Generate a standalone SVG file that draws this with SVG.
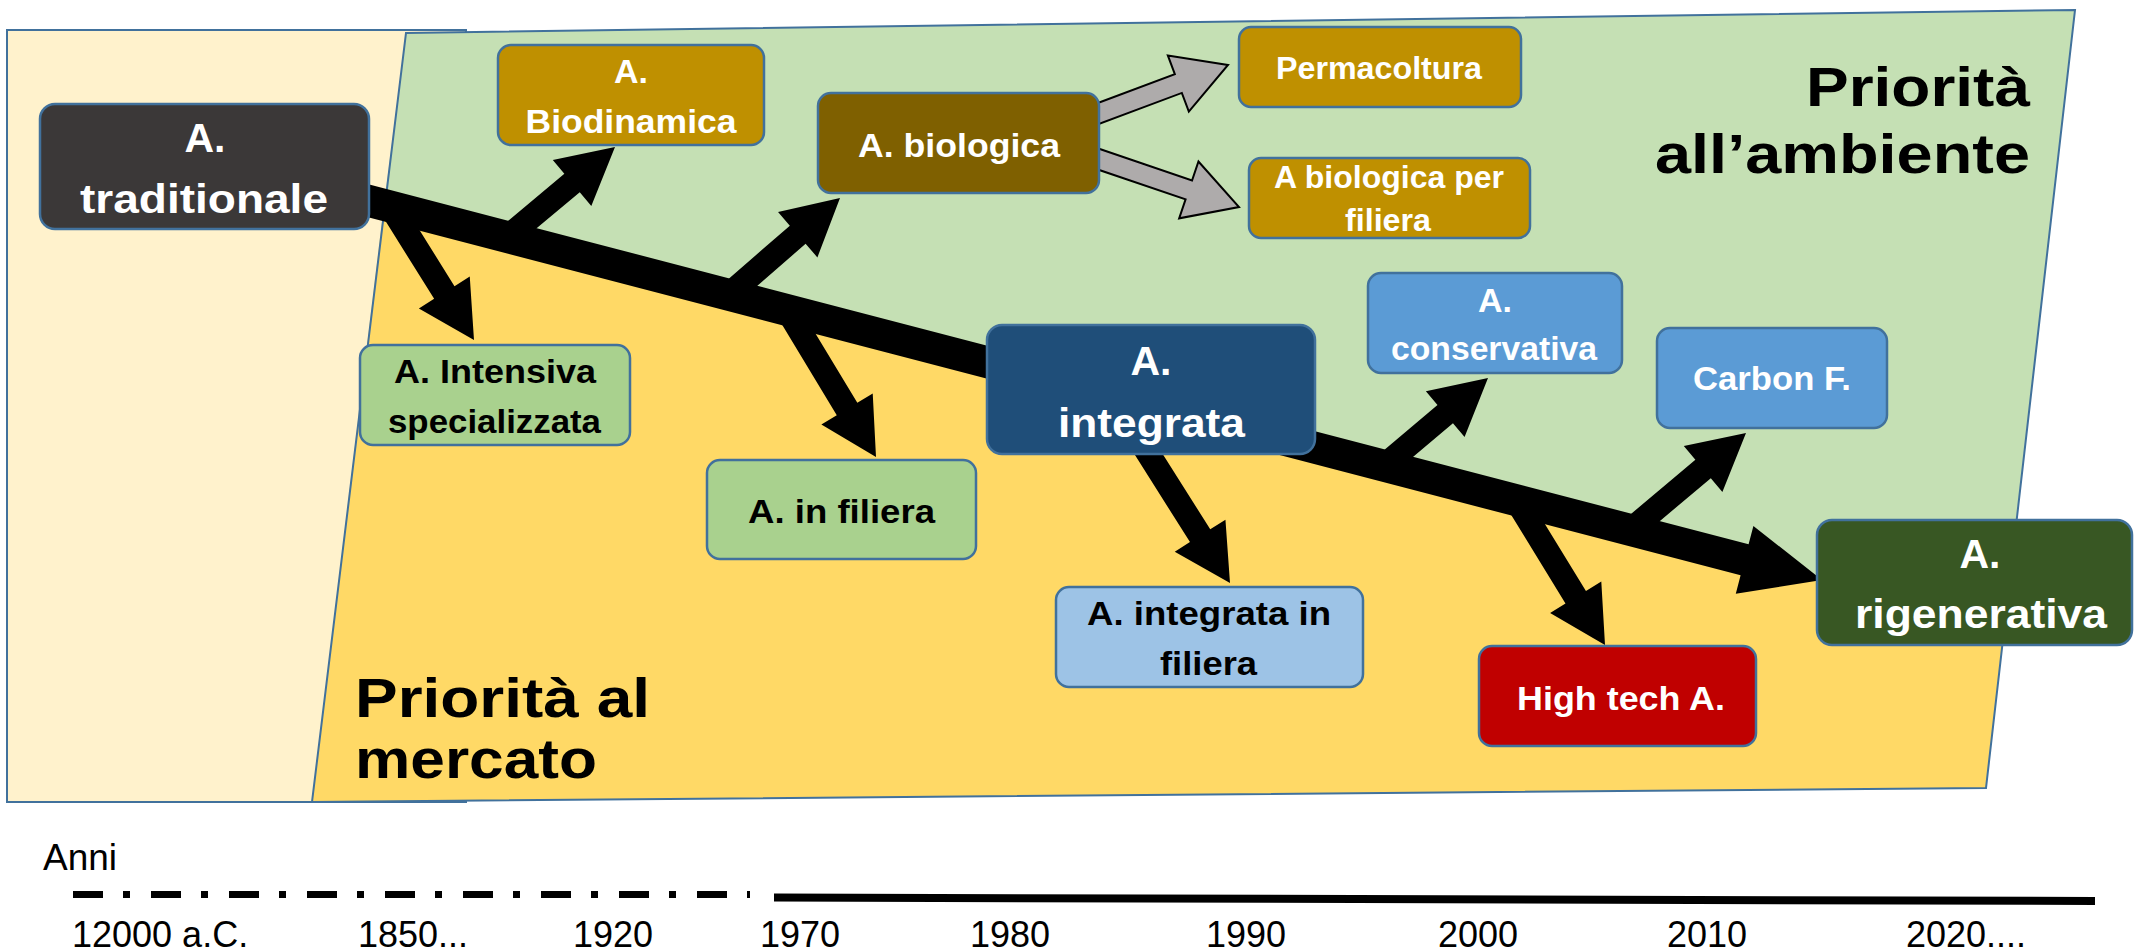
<svg xmlns="http://www.w3.org/2000/svg" width="2136" height="952" viewBox="0 0 2136 952">
<style>
.box{stroke:#41719C;stroke-width:2.5}
.lbl{font-family:'Liberation Sans',Arial,sans-serif;font-weight:bold;text-anchor:middle}
.big{font-size:41px}.med{font-size:34px}.sm{font-size:31px}
.w{fill:#FFFFFF}.k{fill:#000000}
.arr{fill:#000000}
.garr{fill:#AEABAB;stroke:#000000;stroke-width:2;stroke-linejoin:miter}
.title{font-family:'Liberation Sans',Arial,sans-serif;font-weight:bold;font-size:56px;fill:#000}
.tl{font-family:'Liberation Sans',Arial,sans-serif;font-size:36px;fill:#000}
</style>
<rect x="0" y="0" width="2136" height="952" fill="#FFFFFF"/>
<g id="regions">
  <rect x="7" y="30" width="459" height="772" fill="#FFF2CC" stroke="#41719C" stroke-width="2"/>
  <polygon points="406,33 2075,10 2004,626 384,205" fill="#C5E0B4"/>
  <polygon points="384,205 2004,626 1986,788 312,802" fill="#FFD966"/>
  <polygon points="406,33 2075,10 1986,788 312,802" fill="none" stroke="#41719C" stroke-width="2"/>
</g>
<g id="connectors">
  <polygon class="arr" points="354,180.5 1748.6,544.3 1753.4,525.9 1822,580 1735.8,593.7 1740.6,575.3 346,211.5"/>
  <polygon class="arr" points="499.6,227.9 564.35,173.75 552.79,159.94 615,147 591.31,205.96 579.75,192.15 515,246.3"/>
  <polygon class="arr" points="400.9,200.3 454.5,286.15 469.76,276.61 474,340 418.88,308.41 434.14,298.87 380.5,213.1"/>
  <polygon class="arr" points="720.7,285.7 789.85,225.68 778.04,212.09 840,198 817.4,257.39 805.59,243.8 736.5,303.9"/>
  <polygon class="arr" points="797.6,303.9 857.32,402.86 872.73,393.55 876,457 821.37,424.57 836.78,415.26 777,316.3"/>
  <polygon class="arr" points="1121.1,388.3 1210.24,529.27 1225.45,519.66 1230,583 1174.75,551.7 1189.96,542.09 1100.9,401.1"/>
  <polygon class="arr" points="1376.2,456.7 1437.48,404.95 1425.87,391.2 1488,378 1464.57,437.04 1452.96,423.29 1391.6,475.1"/>
  <polygon class="arr" points="1622.6,521 1695.38,459.82 1683.81,446.03 1746,433 1722.39,491.99 1710.82,478.2 1638,539.4"/>
  <polygon class="arr" points="1526.6,494.2 1585.95,590.95 1601.3,581.54 1605,645 1550.12,612.92 1565.47,603.51 1506.2,506.8"/>
  <polygon class="garr" points="1086.5,107.2 1174.84,74.18 1167.84,55.44 1228,65 1188.84,111.66 1181.84,92.92 1093.5,126"/>
  <polygon class="garr" points="1093.2,146.8 1192.03,180.46 1198.47,161.52 1239,207 1179.15,218.34 1185.59,199.4 1086.8,165.8"/>
</g>
<g id="n-traditionale">
  <rect class="box" x="40" y="104" width="329" height="125" rx="15" fill="#3B3838"/>
  <text class="lbl big w" x="205" y="152">A.</text>
  <text class="lbl big w" x="204" y="213" textLength="248" lengthAdjust="spacingAndGlyphs">traditionale</text>
</g>
<g id="n-biodinamica">
  <rect class="box" x="498" y="45" width="266" height="100" rx="13" fill="#BF9000"/>
  <text class="lbl med w" x="631" y="83">A.</text>
  <text class="lbl med w" x="631" y="133" textLength="211" lengthAdjust="spacingAndGlyphs">Biodinamica</text>
</g>
<g id="n-biologica">
  <rect class="box" x="818" y="93" width="281" height="100" rx="13" fill="#7F6000"/>
  <text class="lbl med w" x="959" y="157" textLength="202" lengthAdjust="spacingAndGlyphs">A. biologica</text>
</g>
<g id="n-permacoltura">
  <rect class="box" x="1239" y="27" width="282" height="80" rx="12" fill="#BF9000"/>
  <text class="lbl sm w" x="1379" y="79" textLength="206" lengthAdjust="spacingAndGlyphs">Permacoltura</text>
</g>
<g id="n-biologica-filiera">
  <rect class="box" x="1249" y="158" width="281" height="80" rx="12" fill="#BF9000"/>
  <text class="lbl sm w" x="1389" y="188" textLength="230" lengthAdjust="spacingAndGlyphs">A biologica per</text>
  <text class="lbl sm w" x="1388" y="231" textLength="86" lengthAdjust="spacingAndGlyphs">filiera</text>
</g>
<g id="n-intensiva">
  <rect class="box" x="360" y="345" width="270" height="100" rx="13" fill="#A9D18E"/>
  <text class="lbl med k" x="495" y="383" textLength="202" lengthAdjust="spacingAndGlyphs">A. Intensiva</text>
  <text class="lbl med k" x="494.5" y="433" textLength="213" lengthAdjust="spacingAndGlyphs">specializzata</text>
</g>
<g id="n-in-filiera">
  <rect class="box" x="707" y="460" width="269" height="99" rx="13" fill="#A9D18E"/>
  <text class="lbl med k" x="841.5" y="523" textLength="187" lengthAdjust="spacingAndGlyphs">A. in filiera</text>
</g>
<g id="n-integrata">
  <rect class="box" x="987" y="325" width="328" height="129" rx="15" fill="#1F4E79"/>
  <text class="lbl big w" x="1151" y="375">A.</text>
  <text class="lbl big w" x="1151.5" y="437" textLength="187" lengthAdjust="spacingAndGlyphs">integrata</text>
</g>
<g id="n-integrata-filiera">
  <rect class="box" x="1056" y="587" width="307" height="100" rx="13" fill="#9DC3E6"/>
  <text class="lbl med k" x="1209" y="625" textLength="244" lengthAdjust="spacingAndGlyphs">A. integrata in</text>
  <text class="lbl med k" x="1208.5" y="675" textLength="97" lengthAdjust="spacingAndGlyphs">filiera</text>
</g>
<g id="n-conservativa">
  <rect class="box" x="1368" y="273" width="254" height="100" rx="13" fill="#5B9BD5"/>
  <text class="lbl med w" x="1495" y="312">A.</text>
  <text class="lbl med w" x="1494" y="360" textLength="206" lengthAdjust="spacingAndGlyphs">conservativa</text>
</g>
<g id="n-carbon">
  <rect class="box" x="1657" y="328" width="230" height="100" rx="13" fill="#5B9BD5"/>
  <text class="lbl med w" x="1772" y="390" textLength="158" lengthAdjust="spacingAndGlyphs">Carbon F.</text>
</g>
<g id="n-hightech">
  <rect class="box" x="1479" y="646" width="277" height="100" rx="13" fill="#C00000"/>
  <text class="lbl med w" x="1621" y="710" textLength="208" lengthAdjust="spacingAndGlyphs">High tech A.</text>
</g>
<g id="n-rigenerativa">
  <rect class="box" x="1817" y="520" width="315" height="125" rx="15" fill="#385723"/>
  <text class="lbl big w" x="1980" y="568">A.</text>
  <text class="lbl big w" x="1981" y="628" textLength="252" lengthAdjust="spacingAndGlyphs">rigenerativa</text>
</g>
<g id="titles">
  <text class="title" x="355" y="717" textLength="295" lengthAdjust="spacingAndGlyphs">Priorità al</text>
  <text class="title" x="355" y="778" textLength="242" lengthAdjust="spacingAndGlyphs">mercato</text>
  <text class="title" x="1806" y="106" textLength="224" lengthAdjust="spacingAndGlyphs">Priorità</text>
  <text class="title" x="1655" y="173" textLength="375" lengthAdjust="spacingAndGlyphs">all’ambiente</text>
</g>
<g id="timeline">
  <text class="tl" x="43" y="870" style="font-size:37px">Anni</text>
  <line x1="73" y1="894.5" x2="750" y2="894.5" stroke="#000" stroke-width="7" stroke-dasharray="30 20 7 21"/>
  <line x1="774" y1="897.5" x2="2095" y2="901" stroke="#000" stroke-width="8"/>
  <text class="tl" x="72" y="947">12000 a.C.</text>
  <text class="tl" x="358" y="947">1850...</text>
  <text class="tl" x="573" y="947">1920</text>
  <text class="tl" x="760" y="947">1970</text>
  <text class="tl" x="970" y="947">1980</text>
  <text class="tl" x="1206" y="947">1990</text>
  <text class="tl" x="1438" y="947">2000</text>
  <text class="tl" x="1667" y="947">2010</text>
  <text class="tl" x="1906" y="947">2020....</text>
</g>
</svg>
